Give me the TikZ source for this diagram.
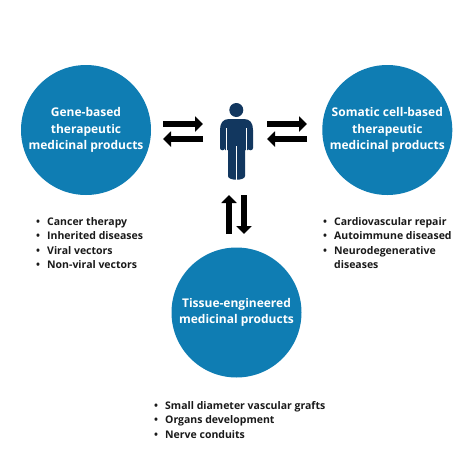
\documentclass[tikz,border=0pt]{standalone}
\usepackage{fontspec}
\setmainfont{Open Sans}
\usetikzlibrary{arrows.meta}
\definecolor{circ}{HTML}{0F7DB3}
\definecolor{navy}{HTML}{12375F}
\definecolor{ink}{HTML}{1A1A1A}
\tikzset{
 bigcircle/.style={circle,fill=circ,minimum size=130pt,inner sep=0pt,text=white,align=center,font=\fontsize{12}{16.7}\selectfont\bfseries},
 bullets/.style={anchor=north west,inner sep=0pt,align=left,text=ink,font=\fontsize{10.5}{14.5}\selectfont\bfseries},
 blockarrow/.style={line width=6.2pt,black,-{Triangle[length=8pt,width=15pt]}},
 bodygap/.style={white,line width=1.2pt},
}
\newcommand{\bul}{\makebox[11pt][l]{•}}
\begin{document}
\begin{tikzpicture}[x=1pt,y=-1pt]
\useasboundingbox (0,0) rectangle (475,475);
\fill[white] (0,0) rectangle (475,475);
\node[bigcircle] (gene) at (86,130) {Gene-based\\therapeutic\\medicinal products};
\node[bigcircle] (soma) at (387.3,130) {Somatic cell-based\\therapeutic\\medicinal products};
\node[bigcircle] (tiss) at (236.5,312.5) {Tissue-engineered\\medicinal products};
\node[bullets] (l1) at (36,217) {\bul Cancer therapy\\\bul Inherited diseases\\\bul Viral vectors\\\bul Non-viral vectors};
\node[bullets] (l2) at (323,217) {\bul Cardiovascular repair\\\bul Autoimmune diseased\\\bul Neurodegenerative\\\hspace*{11pt}diseases};
\node[bullets] (l3) at (154,401) {\bul Small diameter vascular grafts\\\bul Organs development\\\bul Nerve conduits};
% person
\fill[navy] (236.3,110) circle (7);
\fill[navy] (229,119) -- (244,119) .. controls (250,119) and (253,123) .. (253,130)
  -- (253,148) .. controls (253,151) and (248,151) .. (248,148) -- (248,150)
  -- (245,150) -- (245,176) .. controls (245,181) and (228,181) .. (228,176)
  -- (228,150) -- (225,150) -- (225,148) .. controls (225,151) and (220,151) .. (220,148)
  -- (220,130) .. controls (220,123) and (223,119) .. (229,119) -- cycle;
\draw[bodygap] (226.4,128) -- (226.4,152);
\draw[bodygap] (246.6,128) -- (246.6,152);
\draw[bodygap] (236.5,146) -- (236.5,181);
% arrows
\coordinate (a1) at (163,124); \coordinate (a2) at (203,124);
\coordinate (a3) at (203,139); \coordinate (a4) at (163,139);
\coordinate (b1) at (267,124); \coordinate (b2) at (307,124);
\coordinate (b3) at (307,139); \coordinate (b4) at (267,139);
\coordinate (c1) at (229,234); \coordinate (c2) at (229,195);
\coordinate (c3) at (244,195); \coordinate (c4) at (244,234);
\draw[blockarrow] (a1) -- (a2);
\draw[blockarrow] (a3) -- (a4);
\draw[blockarrow] (b1) -- (b2);
\draw[blockarrow] (b3) -- (b4);
\draw[blockarrow] (c1) -- (c2);
\draw[blockarrow] (c3) -- (c4);
\end{tikzpicture}
\end{document}
